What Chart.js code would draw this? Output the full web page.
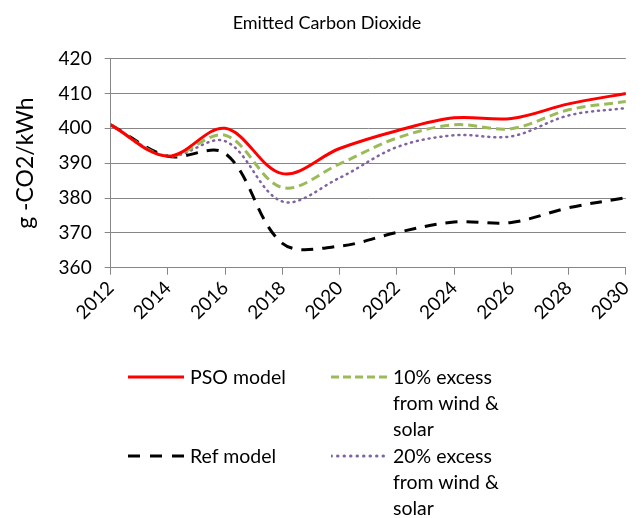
<!DOCTYPE html>
<html>
<head>
<meta charset="utf-8">
<script src="https://cdn.jsdelivr.net/npm/chart.js@4/dist/chart.umd.min.js"></script>
<style>
  body { margin: 0; background: #fff; }
  #wrap { position: relative; width: 644px; height: 518px; }
  #legend { position: absolute; left: 0; top: 0; font-family: Lato, sans-serif; font-size: 19.5px; color: #000; }
  .item { position: absolute; line-height: 26px; }
  .item svg { position: absolute; left: 0; top: 8px; }
  .item span { position: absolute; white-space: nowrap; }
</style>
</head>
<body>
<div id="wrap">
  <canvas id="myChart" width="644" height="518"></canvas>
  <div id="legend"></div>
</div>
<script>
// data (one point every two years, smoothed lines)
var years = [2012, 2014, 2016, 2018, 2020, 2022, 2024, 2026, 2028, 2030];
var psoModel = [401, 392, 400, 387, 394.2, 399.3, 403, 402.8, 407, 410];
var excess10 = [401, 392, 398, 383, 389.8, 397.2, 401, 399.9, 405.3, 407.7];
var refModel = [401, 392, 392.8, 367, 366.2, 370.1, 373.1, 373, 377.2, 380.1];
var excess20 = [401, 392, 396.3, 379, 385.8, 394.6, 398, 397.7, 403.7, 405.8];

var seriesNames = ["PSO model", "10% excess from wind & solar", "Ref model", "20% excess from wind & solar"];

function pts(vals) {
	return years.map(function(y, i){ return {x: y, y: vals[i]}; });
}

var font = "Lato, sans-serif";
var grey = "#868686";

var ctx = document.getElementById("myChart").getContext("2d");
var chart = new Chart(ctx, {
	type: "line",
	data: {
		datasets: [
			{ label: seriesNames[0], data: pts(psoModel), borderColor: "#FF0000", borderWidth: 3 },
			{ label: seriesNames[1], data: pts(excess10), borderColor: "#9BBB59", borderWidth: 3, borderDash: [9, 5] },
			{ label: seriesNames[2], data: pts(refModel), borderColor: "#000000", borderWidth: 3, borderDash: [12, 9] },
			{ label: seriesNames[3], data: pts(excess20), borderColor: "#8064A2", borderWidth: 2.5, borderDash: [1, 5], borderCapStyle: "round" }
		]
	},
	options: {
		responsive: false,
		animation: false,
		layout: { padding: { left: 12, right: 2, top: 6, bottom: 192 } },
		elements: {
			point: { radius: 0 },
			line: { tension: 0.35, fill: false }
		},
		plugins: {
			legend: { display: false },
			tooltip: { enabled: false },
			title: {
				display: true,
				text: "Emitted Carbon Dioxide",
				color: "#000",
				font: { family: font, size: 18, weight: "normal" },
				padding: { top: 6, bottom: 25 }
			}
		},
		scales: {
			x: {
				type: "linear",
				min: 2012,
				max: 2030,
				ticks: {
					stepSize: 2,
					color: "#000",
					font: { family: font, size: 19 },
					minRotation: 45,
					maxRotation: 45,
					padding: 2,
					callback: function(v){ return String(v); }
				},
				grid: { drawOnChartArea: false, color: grey, tickLength: 7 },
				border: { color: grey }
			},
			y: {
				min: 360,
				max: 420,
				ticks: {
					stepSize: 10,
					color: "#000",
					font: { family: font, size: 19 },
					padding: 13
				},
				grid: { color: grey, drawTicks: true, tickLength: 6 },
				border: { color: grey },
				title: {
					display: true,
					text: "g -CO2/kWh",
					color: "#000",
					font: { family: font, size: 23 },
					padding: { top: 0, bottom: 6 }
				}
			}
		}
	}
});

// legend drawn as html so the long labels can wrap like the original
var legendItems = [
	{ lines: ["PSO model"], x: 128, y: 364, color: "#FF0000", dash: "", w: 3 },
	{ lines: ["10% excess", "from wind &", "solar"], x: 331, y: 364, color: "#9BBB59", dash: "8,4", w: 3 },
	{ lines: ["Ref model"], x: 128, y: 443, color: "#000000", dash: "12,10", w: 3 },
	{ lines: ["20% excess", "from wind &", "solar"], x: 331, y: 443, color: "#8064A2", dash: "0.5,6", w: 3 }
];
var legend = document.getElementById("legend");
legendItems.forEach(function(it){
	var d = document.createElement("div");
	d.className = "item";
	d.style.left = it.x + "px";
	d.style.top = it.y + "px";
	var cap = it.dash === "0.5,6" ? "round" : "butt";
	d.innerHTML = '<svg width="58" height="10"><line x1="0" y1="5" x2="56" y2="5" stroke="' + it.color +
		'" stroke-width="' + it.w + '" stroke-linecap="' + cap + '"' + (it.dash ? ' stroke-dasharray="' + it.dash + '"' : '') + '/></svg>';
	it.lines.forEach(function(t, i){
		var s = document.createElement("span");
		s.textContent = t;
		s.style.left = "62px";
		s.style.top = (i * 26) + "px";
		d.appendChild(s);
	});
	legend.appendChild(d);
});
</script>
</body>
</html>
